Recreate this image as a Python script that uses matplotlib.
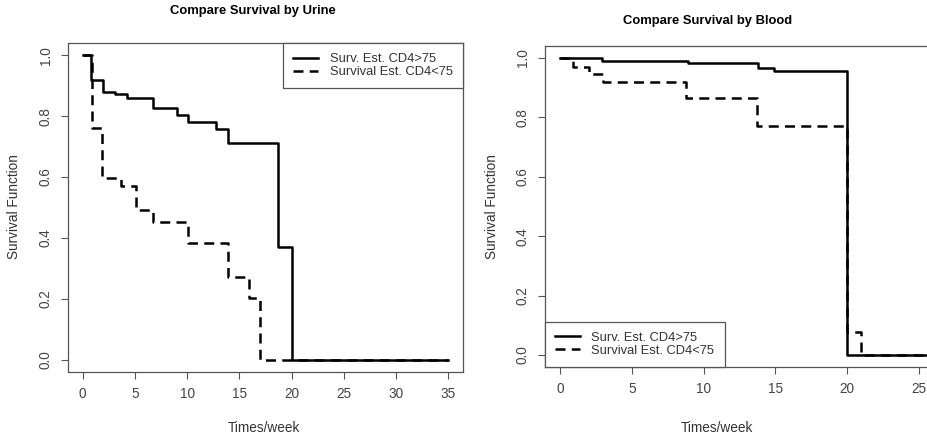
import numpy as np
import matplotlib.pyplot as plt

plt.rcParams['font.family'] = ['Liberation Sans', 'DejaVu Sans']

# Kaplan-Meier estimates (weeks, survival)
urine_hi_t = [0, 0.8, 1.95, 3.1, 4.2, 6.7, 9.0, 10.1, 12.8, 13.9, 18.7, 20.0, 35]
urine_hi_s = [1.0, 0.92, 0.879, 0.872, 0.858, 0.825, 0.803, 0.78, 0.759, 0.711, 0.369, 0.0, 0.0]
urine_lo_t = [0, 0.9, 1.9, 3.7, 5.1, 6.7, 10.1, 13.9, 15.9, 17.0, 35]
urine_lo_s = [1.0, 0.762, 0.596, 0.572, 0.492, 0.452, 0.384, 0.271, 0.203, 0.0, 0.0]

blood_hi_t = [0, 2.9, 8.9, 13.8, 14.9, 20.0, 26.4]
blood_hi_s = [1.0, 0.99, 0.982, 0.965, 0.957, 0.0, 0.0]
blood_lo_t = [0, 0.9, 2.0, 3.0, 8.8, 13.7, 20.0, 21.0, 26.4]
blood_lo_s = [1.0, 0.969, 0.946, 0.92, 0.864, 0.77, 0.077, 0.0, 0.0]

labels = ["Surv. Est. CD4>75", "Survival Est. CD4<75"]
xticks_urine = [0, 5, 10, 15, 20, 25, 30, 35]
xticks_blood = [0, 5, 10, 15, 20, 25]
yticks = [0.0, 0.2, 0.4, 0.6, 0.8, 1.0]

W, H = 928, 437
fig = plt.figure(figsize=(W / 100, H / 100), dpi=100)
fs = 9.8


def px_axes(l, r, t, b):
    return fig.add_axes([l / W, 1 - b / H, (r - l) / W, (b - t) / H])


ax1 = px_axes(68, 463, 43, 372)
ax2 = px_axes(545, 954, 46, 367)

tick_col = '#444444'
for ax, xt in [(ax1, xticks_urine), (ax2, xticks_blood)]:
    for sp in ax.spines.values():
        sp.set_color('#555555')
        sp.set_linewidth(0.9)
    ax.set_xticks(xt)
    ax.set_yticks(yticks)
    ax.set_yticklabels([f"{v:.1f}" for v in yticks], rotation=90, va='center')
    ax.tick_params(direction='out', length=5, width=0.8, colors='#555555',
                   labelcolor=tick_col, labelsize=fs, pad=6)

ax1.plot(urine_hi_t, urine_hi_s, drawstyle='steps-post', color='black', lw=1.8, label=labels[0])
ax1.plot(urine_lo_t, urine_lo_s, drawstyle='steps-post', color='black', lw=1.8,
         dashes=(4, 2.5), label=labels[1])
ax1.set_xlim(-1.4, 36.4)
ax1.set_ylim(-0.04, 1.04)

ax2.plot(blood_hi_t, blood_hi_s, drawstyle='steps-post', color='black', lw=1.8, label=labels[0])
ax2.plot(blood_lo_t, blood_lo_s, drawstyle='steps-post', color='black', lw=1.8,
         dashes=(4, 2.5), label=labels[1])
ax2.set_xlim(-1.05, 27.45)
ax2.set_ylim(-0.04, 1.04)

leg_kw = dict(fancybox=False, framealpha=1, edgecolor='#555555', fontsize=9.3,
              handlelength=1.9, borderaxespad=0, borderpad=0.8, labelspacing=0.05,
              handletextpad=0.9)
leg1 = ax1.legend(loc='upper right', **leg_kw)
leg2 = ax2.legend(loc='lower left', **leg_kw)
for lg in (leg1, leg2):
    lg.get_frame().set_linewidth(0.9)
    for tx in lg.get_texts():
        tx.set_color('#333333')

# titles and axis labels placed where they sit in the reference
fig.text(253 / W, 1 - 11 / H, "Compare Survival by Urine", ha='center', va='center',
         fontsize=9.4, fontweight='bold')
fig.text(708 / W, 1 - 21 / H, "Compare Survival by Blood", ha='center', va='center',
         fontsize=9.4, fontweight='bold')
fig.text(264 / W, 1 - 428 / H, "Times/week", ha='center', va='center', fontsize=fs, color='#333333')
fig.text(717 / W, 1 - 428 / H, "Times/week", ha='center', va='center', fontsize=fs, color='#333333')
fig.text(14 / W, 1 - 207 / H, "Survival Function", ha='center', va='center', rotation=90,
         fontsize=fs, color='#333333')
fig.text(492 / W, 1 - 207 / H, "Survival Function", ha='center', va='center', rotation=90,
         fontsize=fs, color='#333333')

fig.savefig("out.png", dpi=100)
